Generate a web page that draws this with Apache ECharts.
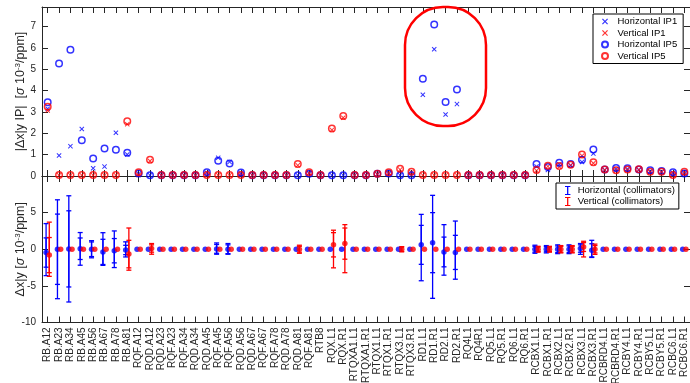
<!DOCTYPE html>
<html>
<head>
<meta charset="utf-8">
<script src="https://cdn.jsdelivr.net/npm/echarts@6/dist/echarts.min.js"></script>
<style>
html, body { margin: 0; padding: 0; background: #fff; }
#main { width: 690px; height: 383px; }
</style>
</head>
<body>
<div id="main"></div>
<script>
// categories (magnet circuits)
const cats = ['RB.A12','RB.A23','RB.A34','RB.A45','RB.A56','RB.A67','RB.A78','RB.A81',
  'RQF.A12','RQD.A12','RQD.A23','RQF.A23','RQF.A34','RQD.A34','RQD.A45','RQF.A45',
  'RQF.A56','RQD.A56','RQD.A67','RQF.A67','RQF.A78','RQD.A78','RQD.A81','RQF.A81',
  'RTB8','RQX.L1','RQX.R1','RTQXA1.L1','RTQXA1.R1','RTQX1.L1','RTQX1.R1','RTQX3.L1',
  'RTQX3.R1','RD1.L1','RD1.R1','RD2.L1','RD2.R1','RQ4L1','RQ4R1','RQ5.L1','RQ5.R1',
  'RQ6.L1','RQ6.R1','RCBX1.L1','RCBX1.R1','RCBX2.L1','RCBX2.R1','RCBX3.L1','RCBX3.R1',
  'RCBRD4.L1','RCBRD4.R1','RCBY4.L1','RCBY4.R1','RCBY5.L1','RCBY5.R1','RCBC6.L1','RCBC6.R1'];

// top panel: |dx|y IP|
const hIP1 = [3.15,0.96,1.40,2.20,0.36,0.44,2.03,1.01,0.10,0.04,0.04,0.04,0.04,0.04,0.15,0.85,
  0.66,0.12,0.04,0.04,0.04,0.04,0.04,0.12,0.04,0.04,0.04,0.04,0.04,0.08,0.10,0.04,
  0.04,3.81,5.94,2.88,3.37,0.04,0.04,0.04,0.04,0.04,0.04,0.45,0.28,0.55,0.50,0.66,
  1.05,0.28,0.33,0.33,0.28,0.22,0.20,0.14,0.10];
const vIP1 = [3.07,0.04,0.04,0.04,0.04,0.04,0.04,2.43,0.05,0.70,0.04,0.04,0.04,0.04,0.04,0.04,
  0.04,0.04,0.04,0.04,0.04,0.04,0.50,0.15,0.04,2.16,2.73,0.04,0.04,0.08,0.15,0.30,
  0.17,0.04,0.04,0.04,0.04,0.04,0.04,0.04,0.04,0.04,0.04,0.25,0.45,0.43,0.50,0.95,
  0.60,0.28,0.25,0.28,0.30,0.18,0.18,0.04,0.18];
const hIP5 = [3.46,5.27,5.92,1.68,0.82,1.29,1.23,1.09,0.12,0.04,0.04,0.04,0.04,0.04,0.18,0.72,
  0.59,0.16,0.04,0.04,0.04,0.04,0.04,0.10,0.04,0.04,0.04,0.04,0.04,0.10,0.12,0.04,
  0.04,4.56,7.10,3.47,4.05,0.04,0.04,0.04,0.04,0.04,0.04,0.56,0.42,0.62,0.56,0.76,
  1.24,0.31,0.37,0.36,0.30,0.27,0.24,0.17,0.12];
const vIP5 = [3.24,0.05,0.05,0.05,0.05,0.05,0.05,2.57,0.17,0.76,0.05,0.05,0.05,0.05,0.05,0.05,
  0.05,0.05,0.05,0.05,0.05,0.05,0.56,0.18,0.05,2.23,2.81,0.05,0.05,0.10,0.17,0.34,
  0.20,0.05,0.05,0.05,0.05,0.05,0.05,0.05,0.05,0.05,0.05,0.28,0.48,0.47,0.53,1.01,
  0.65,0.31,0.27,0.30,0.32,0.20,0.20,0.05,0.20];

// bottom panel: dx|y from collimators, two estimates (A inner, B outer) each with error
const hCenA = [-0.45,0,0.05,0.07,0,-0.36,-0.2,-0.1,0,0,0,0,0,0,0,0.05,
  0,0,0,0,0,0,0,0,0,0,0,0,0,0,0,0,
  0,0.6,0.9,-0.37,-0.43,0,0,0,0,0,0,0,0,0,0,0.1,
  -0.15,0,0,0,0,0,0,0,0];
const hErrA = [2.0,4.8,5.2,1.47,1.0,1.72,1.66,0.64,0,0,0,0,0,0,0,0.6,
  0.6,0,0,0,0,0,0,0,0,0,0,0,0,0,0,0,
  0,2.66,4.1,2.03,2.33,0,0,0,0,0,0,0.4,0.35,0.45,0.45,0.5,
  0.9,0,0,0,0,0,0,0,0];
const hCenB = [-0.05,0,0.05,0.05,0,0.03,0,-0.02,0,0,0,0,0,0,0,0.09,
  0.05,0,0,0,0,0,0,0,0,0,0,0,0,0,0,0,
  0,0.23,0.33,-0.09,-0.12,0,0,0,0,0,0,0,0,0,0,0.04,
  0.05,0,0,0,0,0,0,0,0];
const hErrB = [3.55,6.75,7.25,2.23,1.17,2.23,2.5,1.03,0,0,0,0,0,0,0,0.77,
  0.73,0,0,0,0,0,0,0,0,0,0,0,0,0,0,0,
  0,4.53,7.03,3.45,3.97,0,0,0,0,0,0,0.55,0.5,0.6,0.6,0.74,
  1.17,0,0,0,0,0,0,0,0];
const vCenA = [-0.8,0,0,0,0,0,0,-0.66,0,0.1,0,0,0,0,0,0,
  0,0,0,0,0,0,0,0,0,0.61,0.77,0,0,0,0,0,
  0,0,0,0,0,0,0,0,0,0,0,0,0,0,0,0.3,
  0,0,0,0,0,0,0,0,0];
const vErrA = [2.4,0,0,0,0,0,0,1.88,0,0.5,0,0,0,0,0,0,
  0,0,0,0,0,0,0.4,0,0,1.66,2.13,0,0,0,0,0.3,
  0,0,0,0,0,0,0,0,0,0,0,0.3,0.3,0.4,0.4,0.6,
  0.5,0,0,0,0,0,0,0,0];
const vCenB = [0,0,0,0,0,0,0,0.02,0,0.05,0,0,0,0,0,0,
  0,0,0,0,0,0,0,0,0,0.03,0.08,0,0,0,0,0,
  0,0,0,0,0,0,0,0,0,0,0,0,0,0,0,0.02,
  0,0,0,0,0,0,0,0,0];
const vErrB = [3.7,0,0,0,0,0,0,2.88,0,0.73,0,0,0,0,0,0,
  0,0,0,0,0,0,0.55,0,0,2.57,3.28,0,0,0,0,0.35,
  0,0,0,0,0,0,0,0,0,0,0,0.4,0.4,0.5,0.5,1.07,
  0.7,0,0,0,0,0,0,0,0];

const BLUE = '#0000ff', RED = '#ff0000', AX = '#262626';
const FONT = 'Liberation Sans, Arial, Helvetica, sans-serif';
const X_SYM = 'path://M0,1.4L1.4,0L5,3.6L8.6,0L10,1.4L6.4,5L10,8.6L8.6,10L5,6.4L1.4,10L0,8.6L3.6,5Z';
const I_SYM = 'path://M0,0H6V1.2H3.7V8.8H6V10H0V8.8H2.3V1.2H0Z';

const chart = echarts.init(document.getElementById('main'));

function catAxis(grid, pos, labels) {
  return {
    type: 'category', data: cats, gridIndex: grid, position: pos, boundaryGap: true,
    axisLine: { show: true, onZero: false, lineStyle: { color: AX, width: 1 } },
    axisTick: { show: true, inside: true, alignWithLabel: true, interval: 0, length: 6, lineStyle: { color: AX } },
    axisLabel: labels ? { show: true, interval: 0, rotate: 90, fontSize: 10, color: AX, fontFamily: FONT, margin: 5 } : { show: false },
    splitLine: { show: false }
  };
}
function valAxis(grid, pos, min, max, interval, labels, name) {
  return {
    type: 'value', gridIndex: grid, position: pos, min: min, max: max, interval: interval,
    axisLine: { show: true, onZero: false, lineStyle: { color: AX, width: 1 } },
    axisTick: { show: true, inside: true, length: 6, lineStyle: { color: AX } },
    axisLabel: labels ? { show: true, fontSize: 10, color: AX, fontFamily: FONT, margin: 6, showMaxLabel: false } : { show: false },
    splitLine: { show: false },
    name: name || '', nameLocation: 'middle', nameGap: 15, nameRotate: 90, nameMoveOverlap: false,
    nameTextStyle: {
      fontSize: 12.5, color: AX, fontFamily: FONT,
      rich: {
        s: { fontSize: 12.5, fontStyle: 'italic', color: AX, fontFamily: FONT },
        sup: { fontSize: 8, color: AX, fontFamily: FONT, verticalAlign: 'top', lineHeight: 9 }
      }
    }
  };
}

function errRender(color, dx) {
  return function (params, api) {
    const i = api.value(0);
    const children = [];
    [[1, 2], [3, 4]].forEach(function (p) {
      const c = api.value(p[0]), e = api.value(p[1]);
      if (!e) return;
      const t = api.coord([i, c + e]), b = api.coord([i, c - e]);
      const x = t[0] + dx;
      const st = { stroke: color, lineWidth: 1.3 };
      children.push({ type: 'line', shape: { x1: x, y1: t[1], x2: x, y2: b[1] }, style: st });
      children.push({ type: 'line', shape: { x1: x - 2.5, y1: t[1], x2: x + 2.5, y2: t[1] }, style: st });
      children.push({ type: 'line', shape: { x1: x - 2.5, y1: b[1], x2: x + 2.5, y2: b[1] }, style: st });
    });
    return { type: 'group', children: children };
  };
}

const hErrData = cats.map((c, i) => [i, hCenA[i], hErrA[i], hCenB[i], hErrB[i]]);
const vErrData = cats.map((c, i) => [i, vCenA[i], vErrA[i], vCenB[i], vErrB[i]]);

chart.setOption({
  animation: false,
  backgroundColor: '#fff',
  textStyle: { fontFamily: FONT },
  grid: [
    { left: 42, right: 0, top: 7, height: 169, containLabel: false, outerBoundsMode: 'none' },
    { left: 42, right: 0, top: 176, height: 146.5, containLabel: false, outerBoundsMode: 'none' }
  ],
  xAxis: [
    catAxis(0, 'bottom', false), catAxis(0, 'top', false),
    catAxis(1, 'bottom', true), catAxis(1, 'top', false)
  ],
  yAxis: [
    valAxis(0, 'left', 0, 7.92, 1, true, '|Δx|y IP|  [{s|σ} 10{sup|-3}/ppm]'),
    valAxis(0, 'right', 0, 7.92, 1, false),
    valAxis(1, 'left', -10, 10, 5, true, 'Δx|y [{s|σ} 10{sup|-3}/ppm]'),
    valAxis(1, 'right', -10, 10, 5, false)
  ],
  legend: [
    {
      data: ['Horizontal IP1', 'Vertical IP1', 'Horizontal IP5', 'Vertical IP5'],
      orient: 'vertical', left: 593, top: 14, width: 90,
      padding: [2, 6, 2, 8], itemGap: 0.5, itemWidth: 15, itemHeight: 6,
      backgroundColor: '#fff', borderColor: '#000', borderWidth: 1,
      textStyle: { fontSize: 9.5, color: '#000', fontFamily: FONT, lineHeight: 11 }
    },
    {
      data: [{ name: 'Horizontal (collimators)', icon: I_SYM }, { name: 'Vertical (collimators)', icon: I_SYM }],
      orient: 'vertical', left: 556, top: 183,
      padding: [2, 4, 2, 9], itemGap: 0, itemWidth: 10, itemHeight: 9,
      backgroundColor: '#fff', borderColor: '#000', borderWidth: 1,
      textStyle: { fontSize: 9.5, color: '#000', fontFamily: FONT, lineHeight: 11 }
    }
  ],
  series: [
    { name: 'Horizontal IP1', type: 'scatter', xAxisIndex: 0, yAxisIndex: 0, data: hIP1, clip: false,
      symbol: X_SYM, symbolSize: 5, itemStyle: { color: BLUE } },
    { name: 'Vertical IP1', type: 'scatter', xAxisIndex: 0, yAxisIndex: 0, data: vIP1, clip: false,
      symbol: X_SYM, symbolSize: 5, itemStyle: { color: RED } },
    { name: 'Horizontal IP5', type: 'scatter', xAxisIndex: 0, yAxisIndex: 0, data: hIP5, clip: false,
      symbol: 'circle', symbolSize: 6.5, itemStyle: { color: 'rgba(255,255,255,0)', borderColor: BLUE, borderWidth: 1.5 } },
    { name: 'Vertical IP5', type: 'scatter', xAxisIndex: 0, yAxisIndex: 0, data: vIP5, clip: false,
      symbol: 'circle', symbolSize: 6.5, itemStyle: { color: 'rgba(255,255,255,0)', borderColor: RED, borderWidth: 1.5 } },

    { name: 'Horizontal (collimators)', type: 'custom', xAxisIndex: 2, yAxisIndex: 2, data: hErrData,
      encode: { x: 0, y: 1 }, itemStyle: { color: BLUE }, renderItem: errRender(BLUE, -1.6), clip: false },
    { name: 'hDots', type: 'scatter', xAxisIndex: 2, yAxisIndex: 2, data: hCenA, clip: false,
      symbol: 'circle', symbolSize: 5.5, symbolOffset: [-1.6, 0], itemStyle: { color: BLUE } },
    { name: 'Vertical (collimators)', type: 'custom', xAxisIndex: 2, yAxisIndex: 2, data: vErrData,
      encode: { x: 0, y: 1 }, itemStyle: { color: RED }, renderItem: errRender(RED, 1.6), clip: false },
    { name: 'vDots', type: 'scatter', xAxisIndex: 2, yAxisIndex: 2, data: vCenA, clip: false,
      symbol: 'circle', symbolSize: 5.5, symbolOffset: [1.6, 0], itemStyle: { color: RED } }
  ],
  graphic: [
    { type: 'rect', z: 100, shape: { x: 405, y: 7, width: 81, height: 119, r: 38 },
      style: { fill: 'none', stroke: RED, lineWidth: 2.5 } }
  ]
});
</script>
</body>
</html>
